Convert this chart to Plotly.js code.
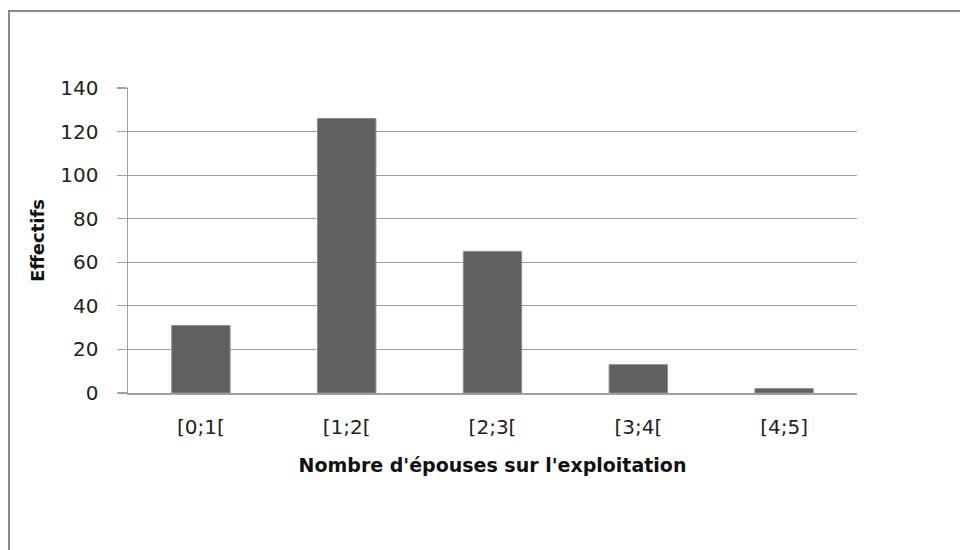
<!DOCTYPE html>
<html>
<head>
<meta charset="utf-8">
<script src="https://cdn.plot.ly/plotly-3.0.1.min.js"></script>
<style>
  html, body { margin:0; padding:0; width:960px; height:550px; overflow:hidden; background:#fff; }
  #frame { position:absolute; left:8px; top:10px; width:1000px; height:600px; border:2px solid #8a8a8a; box-sizing:border-box; }
  #chart { position:absolute; left:0; top:0; width:960px; height:550px; }
</style>
</head>
<body>
<div id="frame"></div>
<div id="chart"></div>
<script>
const categories = ["[0;1[", "[1;2[", "[2;3[", "[3;4[", "[4;5]"];
const effectifs = [31, 126, 65, 13, 2];
const yTicks = [0, 20, 40, 60, 80, 100, 120, 140];
const xTitle = "Nombre d'épouses sur l'exploitation";
const yTitle = "Effectifs";

const trace = {
  type: 'bar',
  x: categories,
  y: effectifs,
  marker: { color: '#606060', line: { color: '#8a8a8a', width: 1 } },
  hoverinfo: 'skip'
};

const layout = {
  width: 960, height: 550,
  margin: { l: 128, r: 103, t: 88, b: 157, pad: 0 },
  paper_bgcolor: 'rgba(0,0,0,0)',
  plot_bgcolor: 'rgba(0,0,0,0)',
  bargap: 0.6,
  showlegend: false,
  font: { family: 'DejaVu Sans', color: '#222' },
  xaxis: {
    type: 'category',
    showgrid: false,
    showline: true, linecolor: '#a0a0a0', linewidth: 1.5,
    ticks: '',
    tickfont: { family: 'DejaVu Sans', size: 20, color: '#222' },
    ticklabelstandoff: 15,
    automargin: false,
    title: { text: xTitle, font: { family: 'DejaVu Sans', size: 19, weight: 'bold', color: '#111' }, standoff: 21 }
  },
  yaxis: {
    range: [0, 140],
    tickvals: yTicks,
    showgrid: true, gridcolor: '#a0a0a0', gridwidth: 1.2,
    showline: true, linecolor: '#a0a0a0', linewidth: 1.5,
    zeroline: false,
    ticks: 'outside', ticklen: 10, tickcolor: '#a0a0a0', tickwidth: 1.2,
    tickfont: { family: 'DejaVu Sans', size: 20, color: '#222' },
    ticklabelstandoff: 14,
    automargin: false,
    title: { text: yTitle, font: { family: 'DejaVu Sans', size: 18, weight: 'bold', color: '#111' }, standoff: 11 }
  }
};

Plotly.newPlot('chart', [trace], layout, { displayModeBar: false, staticPlot: true });
</script>
</body>
</html>
